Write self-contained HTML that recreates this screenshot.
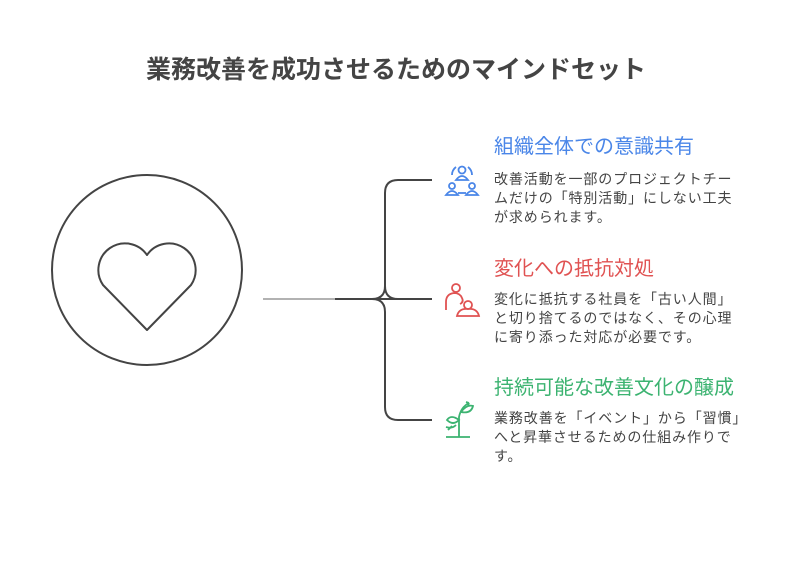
<!DOCTYPE html>
<html><head><meta charset="utf-8"><style>
body{margin:0;width:792px;height:564px;background:#fff;position:relative;font-family:"Liberation Sans","Noto Sans CJK JP",sans-serif;overflow:hidden}
.t{position:absolute;white-space:nowrap}
.title{left:0;width:792px;text-align:center;top:50px;font-size:25px;font-weight:bold;color:#444}
.h{left:494px;font-size:20px}
.b{left:494px;font-size:14px;letter-spacing:0.9px;color:#444;line-height:19px}
</style></head><body>
<div class="t title">業務改善を成功させるためのマインドセット</div>
<svg width="792" height="564" style="position:absolute;left:0;top:0">
<circle cx="147" cy="270" r="95" fill="none" stroke="#444" stroke-width="2"/>
<path d="M147 330 L103 285 A24 24 0 0 1 147 255 A24 24 0 0 1 191 285 Z" fill="none" stroke="#444" stroke-width="2" stroke-linejoin="round"/>
<line x1="263" y1="299" x2="335" y2="299" stroke="#999" stroke-width="1.5"/>
<line x1="335" y1="299" x2="432" y2="299" stroke="#444" stroke-width="2"/>
<path d="M432 180 H398 Q385 180 385 193 V286 Q385 299 372 299 M385 286 Q385 299 398 299 M372 299 Q385 299 385 312 V407 Q385 420 398 420 H432" fill="none" stroke="#444" stroke-width="2"/>
<g fill="none" stroke="#4a86e8" stroke-width="1.8">
<circle cx="462" cy="170" r="3.5"/><path d="M456 180 q6 -8 12 0 z"/>
<path d="M452 175 a10 10 0 0 1 4 -8 M472 175 a10 10 0 0 0 -4 -8"/>
<circle cx="452" cy="186" r="3"/><path d="M446 195 q6 -8 12 0 z"/>
<circle cx="472" cy="186" r="3"/><path d="M466 195 q6 -8 12 0 z"/>
<path d="M458 193 h8"/></g>
<g fill="none" stroke="#e05252" stroke-width="1.8">
<circle cx="456" cy="288" r="4"/><path d="M446 310 v-8 q0 -8 8 -9 q6 0 8 5 q2 4 -2 6"/>
<circle cx="468" cy="305" r="4"/><path d="M457 316 q2 -8 11 -7 q9 -1 11 7 z"/></g>
<g fill="none" stroke="#3cb371" stroke-width="1.8">
<path d="M446 437 h24 M459 437 v-20 q2 -10 10 -14 M469 403 l-3 -1 M469 403 l-1 3"/>
<path d="M459 420 q-8 -6 -12 0 q6 6 12 0 z M461 412 q6 -8 12 -6 q-2 8 -12 6 z"/>
<path d="M448 430 l4 -4 M446 427 q6 2 10 -2"/></g>
</svg>
<div class="t h" style="top:130px;color:#4a86e8">組織全体での意識共有</div>
<div class="t b" style="top:170px">改善活動を一部のプロジェクトチー<br>ムだけの「特別活動」にしない工夫<br>が求められます。</div>
<div class="t h" style="top:252px;color:#e05252">変化への抵抗対処</div>
<div class="t b" style="top:290px">変化に抵抗する社員を「古い人間」<br>と切り捨てるのではなく、その心理<br>に寄り添った対応が必要です。</div>
<div class="t h" style="top:371px;color:#3cb371">持続可能な改善文化の醸成</div>
<div class="t b" style="top:409px">業務改善を「イベント」から「習慣」<br>へと昇華させるための仕組み作りで<br>す。</div>
</body></html>
